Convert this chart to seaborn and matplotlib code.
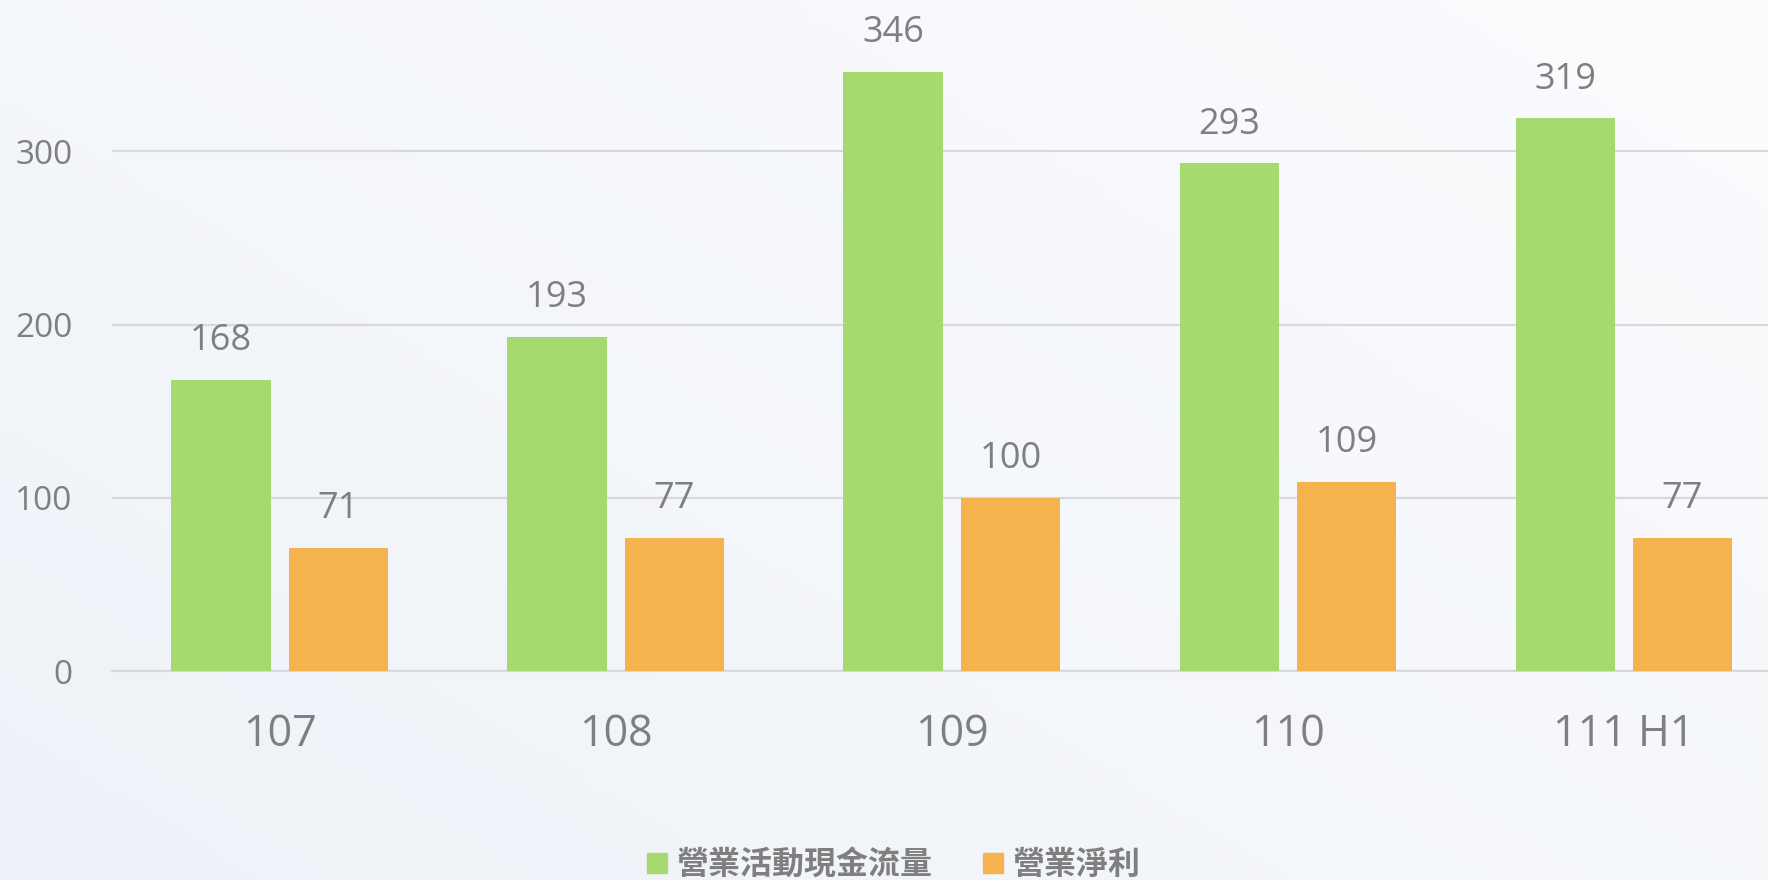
import numpy as np
import pandas as pd
import matplotlib
matplotlib.use('Agg')
import matplotlib.pyplot as plt
from matplotlib.lines import Line2D
import seaborn as sns

# 데이터
years = ['107', '108', '109', '110', '111 H1']
cash_flow = [168, 193, 346, 293, 319]      # 營業活動現金流量
net_income = [71, 77, 100, 109, 77]         # 營業淨利
series_names = ['營業活動現金流量', '營業淨利']
colors = ['#a6d96e', '#f5b34f']
y_ticks = [0, 100, 200, 300]

df = pd.DataFrame({
    'year': years * 2,
    'value': cash_flow + net_income,
    'series': [series_names[0]] * len(years) + [series_names[1]] * len(years),
})

sns.set_theme(style='white')
plt.rcParams['font.family'] = ['Open Sans', 'Noto Sans CJK TC', 'DejaVu Sans']

gray = '#7f7f7f'
fig = plt.figure(figsize=(17.68, 8.8), dpi=100)
fig.patch.set_facecolor('#f6f8fb')

# 배경 그라데이션 (옅게)
bg = fig.add_axes([0, 0, 1, 1], zorder=-10)
gx, gy = np.meshgrid(np.linspace(0, 1, 200), np.linspace(0, 1, 100))
grad = 0.55 * gx + 0.45 * (1 - gy)
bg.imshow(grad, cmap=matplotlib.colors.LinearSegmentedColormap.from_list(
    'bgc', ['#eef2f8', '#fbfcfe']), aspect='auto', extent=[0, 1, 0, 1])
bg.axis('off')

ax = fig.add_axes([0.0631, 0.2375, 0.9504, 0.748])
ax.set_facecolor('none')

sns.barplot(data=df, x='year', y='value', hue='series', order=years,
            hue_order=series_names, palette=dict(zip(series_names, colors)),
            width=0.698, gap=0.154, saturation=1, linewidth=0,
            ax=ax, legend=False, zorder=3)

for cont in ax.containers:
    ax.bar_label(cont, labels=[f'{v:.0f}' for v in cont.datavalues],
                 padding=15, fontsize=26, color=gray)

ax.set_xlim(-0.5, len(years) - 0.5)
ax.set_ylim(0, 380)
ax.set_yticks(y_ticks)
ax.yaxis.grid(True, color='#d9d9d9', linewidth=1.6, zorder=0)
ax.set_axisbelow(True)
for s in ['top', 'right', 'left']:
    ax.spines[s].set_visible(False)
ax.spines['bottom'].set_color('#d9d9d9')
ax.spines['bottom'].set_linewidth(1.6)
ax.tick_params(axis='y', length=0, pad=28, labelsize=24, labelcolor=gray)
ax.tick_params(axis='x', length=0, pad=30, labelsize=31, labelcolor=gray)
ax.set_xlabel('')
ax.set_ylabel('')

handles = [Line2D([], [], marker='s', linestyle='', markersize=15,
                  markerfacecolor=c, markeredgecolor=c) for c in colors]
fig.legend(handles, series_names, loc='center', bbox_to_anchor=(0.503, 0.017),
           ncol=2, frameon=False, handletextpad=0.0, handlelength=1.2,
           columnspacing=1.3,
           prop={'family': ['Noto Sans CJK TC'], 'size': 23, 'weight': 'bold'},
           labelcolor=gray)

fig.savefig('out.png', dpi=100, facecolor=fig.get_facecolor())
